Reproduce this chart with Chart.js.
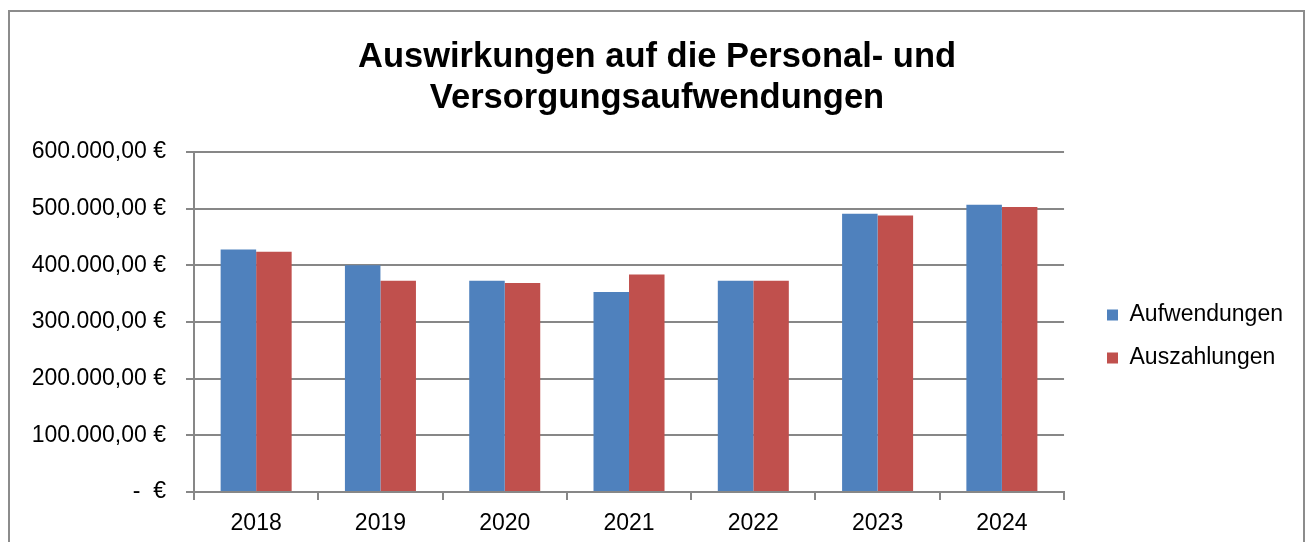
<!DOCTYPE html>
<html lang="de">
<head>
<meta charset="utf-8">
<title>Auswirkungen auf die Personal- und Versorgungsaufwendungen</title>
<script src="https://cdn.jsdelivr.net/npm/chart.js@4.4.1/dist/chart.umd.min.js"></script>
<style>
    html, body { margin: 0; padding: 0; background: #fff; overflow: hidden; }
    .frame {
        position: absolute; left: 8px; top: 10px;
        width: 1297px; height: 600px;
        box-sizing: border-box;
        border: 2px solid #8c8c8c;
    }
    #chart { position: absolute; left: 0; top: 0; }
</style>
</head>
<body>
<div class="frame"></div>
<canvas id="chart" width="1309" height="542"></canvas>

<script>
// DATA
const years = ["2018", "2019", "2020", "2021", "2022", "2023", "2024"];
const aufwendungen = [428000, 400000, 373000, 353000, 373000, 491000, 507000];
const auszahlungen = [424000, 373000, 369000, 384000, 373000, 488000, 503000];
const seriesNames = ["Aufwendungen", "Auszahlungen"];
const titleLines = ["Auswirkungen auf die Personal- und", "Versorgungsaufwendungen"];
const yMax = 600000;
const yStep = 100000;

const FONT = "'Liberation Sans', Arial, sans-serif";
const GRID = "#878787";

// 600000 -> "600.000,00 €", 0 -> "-  €"
function euro(v) {
    if (v === 0) return "-  €";
    const s = Math.round(v).toString().replace(/\B(?=(\d{3})+(?!\d))/g, ".");
    return s + ",00 €";
}

// put legend and title where the original has them
const boxPlacer = {
    id: "boxPlacer",
    afterLayout(chart) {
        const lg = chart.legend;
        const pad = lg.options.labels.padding;
        const w = lg.width, h = lg.height;
        lg.left = 1107 - pad;
        lg.right = lg.left + w;
        lg.top = 303.5 - pad;
        lg.bottom = lg.top + h;

        // title centred on the whole frame, not only on the part left of the legend
        const tb = chart.titleBlock;
        tb.left = 0;
        tb.right = 1314;
        tb.width = 1314;
    }
};

new Chart(document.getElementById("chart"), {
    type: "bar",
    data: {
        labels: years,
        datasets: [
            { label: seriesNames[0], data: aufwendungen, backgroundColor: "#4F81BD" },
            { label: seriesNames[1], data: auszahlungen, backgroundColor: "#C0504D" }
        ]
    },
    plugins: [boxPlacer],
    options: {
        responsive: false,
        animation: false,
        devicePixelRatio: 1,
        layout: { padding: { left: 0, right: 39, top: 0, bottom: 0 } },
        datasets: {
            bar: { categoryPercentage: 2 / 3.5, barPercentage: 1, borderWidth: 0 }
        },
        plugins: {
            title: {
                display: true,
                text: titleLines,
                color: "#000",
                font: { family: FONT, size: 34.5, weight: "bold", lineHeight: 1.2 },
                padding: { top: 36.5, bottom: 32.7 }
            },
            legend: {
                position: "right",
                align: "start",
                labels: {
                    color: "#000",
                    font: { family: FONT, size: 23 },
                    boxWidth: 11,
                    boxHeight: 11,
                    padding: 20
                }
            },
            tooltip: { enabled: false }
        },
        scales: {
            x: {
                grid: {
                    display: true,
                    drawOnChartArea: false,
                    drawTicks: true,
                    tickLength: 8,
                    offset: true,
                    color: GRID,
                    lineWidth: 2
                },
                border: { display: true, color: GRID, width: 2 },
                ticks: { color: "#000", font: { family: FONT, size: 23 }, padding: 10 },
                afterFit(scale) { scale.height = 50; }
            },
            y: {
                min: 0,
                max: yMax,
                grid: { color: GRID, lineWidth: 2, tickLength: 8, drawTicks: true },
                border: { display: true, color: GRID, width: 2 },
                ticks: {
                    stepSize: yStep,
                    color: "#000",
                    font: { family: FONT, size: 23 },
                    padding: 20,
                    callback: v => euro(v)
                },
                afterFit(scale) { scale.width = 194; }
            }
        }
    }
});
</script>
</body>
</html>
